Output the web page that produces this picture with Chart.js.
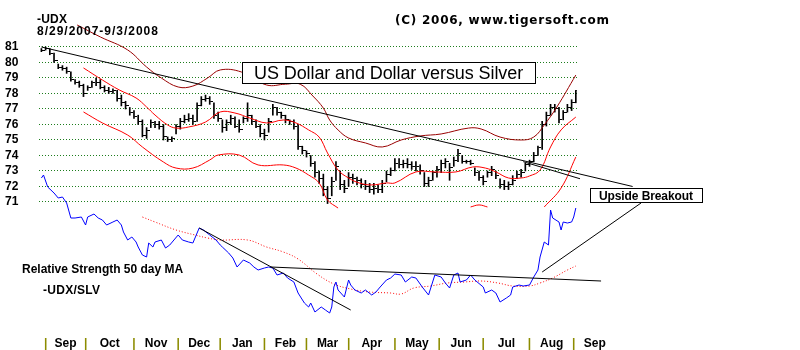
<!DOCTYPE html>
<html>
<head>
<meta charset="utf-8">
<title>-UDX 8/29/2007-9/3/2008</title>
<script src="https://cdn.jsdelivr.net/npm/chart.js@4.4.0/dist/chart.umd.min.js"></script>
<style>
  html, body { margin: 0; padding: 0; background: #fff; }
  #wrap { width: 800px; height: 350px; position: relative; }
</style>
</head>
<body>
<div id="wrap"><canvas id="udxChart"></canvas></div>
<script>
// -UDX daily bars, one bar every second trading day (day 0 = 8/29/2007)
const barHigh = [80.9, 81.0, 80.9, 80.6, 79.9, 79.8, 79.7, 79.4, 78.9, 78.8,
  78.6, 78.5, 78.8, 79.0, 78.9, 78.5, 78.4, 78.3, 78.2, 77.9,
  77.5, 77.1, 76.9, 76.6, 76.3, 75.8, 76.3, 76.2, 76.2, 76.0,
  75.2, 75.2, 76.0, 76.4, 76.6, 76.7, 76.6, 77.4, 77.8, 77.9,
  77.8, 77.4, 76.8, 76.3, 76.3, 76.6, 76.5, 76.3, 76.5, 77.4,
  76.6, 76.3, 76.0, 75.7, 76.4, 77.3, 77.1, 76.8, 76.6, 76.3,
  76.3, 76.0, 74.6, 74.3, 74.0, 73.6, 73.0, 72.8, 72.0, 72.6,
  73.6, 73.0, 72.4, 72.9, 72.8, 72.6, 72.5, 72.4, 72.2, 72.2,
  72.1, 72.4, 73.0, 73.2, 73.8, 73.8, 73.7, 73.8, 73.6, 73.6,
  73.4, 72.9, 72.6, 73.0, 73.3, 73.7, 73.8, 73.5, 73.9, 74.4,
  74.0, 73.7, 73.7, 73.2, 73.0, 72.7, 73.0, 73.3, 73.0, 72.5,
  72.4, 72.3, 72.7, 73.0, 73.1, 73.5, 73.7, 74.2, 74.6, 76.2,
  76.8, 77.3, 77.3, 77.1, 76.9, 77.3, 77.6, 78.2];
const barLow = [80.7, 80.8, 80.5, 80.0, 79.6, 79.5, 79.3, 78.8, 78.6, 78.4,
  77.8, 78.2, 78.4, 78.5, 78.3, 78.1, 78.0, 78.0, 77.5, 77.2,
  77.0, 76.6, 76.4, 76.0, 75.2, 75.1, 75.8, 75.8, 75.7, 75.0,
  74.9, 74.9, 75.4, 75.7, 76.1, 76.2, 76.0, 76.2, 77.2, 77.5,
  77.3, 76.4, 76.2, 75.5, 75.6, 76.0, 75.8, 75.5, 76.1, 76.2,
  76.0, 75.8, 75.2, 75.0, 75.5, 76.6, 76.6, 76.4, 76.1, 76.0,
  75.7, 74.4, 74.1, 73.9, 73.3, 72.6, 72.2, 71.4, 70.9, 71.4,
  72.4, 71.8, 71.6, 72.0, 72.2, 72.1, 71.9, 71.8, 71.6, 71.5,
  71.6, 71.6, 72.3, 72.7, 73.0, 73.2, 73.2, 73.2, 73.1, 73.0,
  72.8, 72.0, 72.0, 72.4, 72.6, 72.9, 73.2, 72.4, 73.3, 73.6,
  73.5, 73.5, 73.4, 72.7, 72.4, 72.1, 72.6, 72.7, 72.5, 71.9,
  71.8, 71.8, 72.1, 72.5, 72.6, 73.0, 73.3, 73.6, 74.0, 74.4,
  75.9, 76.6, 76.8, 76.1, 76.3, 76.8, 76.9, 77.4];
const barClose = [80.8, 80.9, 80.6, 80.1, 79.7, 79.6, 79.4, 78.9, 78.7, 78.5,
  78.0, 78.4, 78.7, 78.7, 78.4, 78.2, 78.1, 78.2, 77.7, 77.4,
  77.2, 76.8, 76.5, 76.2, 75.3, 75.6, 76.1, 76.0, 75.9, 75.2,
  75.0, 75.1, 75.9, 76.2, 76.3, 76.4, 76.2, 77.2, 77.6, 77.7,
  77.5, 76.6, 76.4, 75.8, 76.1, 76.4, 75.9, 75.7, 76.4, 76.6,
  76.2, 75.9, 75.4, 75.3, 76.2, 77.1, 76.8, 76.6, 76.3, 76.2,
  75.9, 74.6, 74.3, 74.1, 73.5, 72.9, 72.5, 71.8, 71.2, 72.3,
  73.3, 72.1, 71.9, 72.6, 72.5, 72.4, 72.1, 72.0, 71.8, 71.9,
  71.8, 72.2, 72.8, 73.0, 73.5, 73.4, 73.5, 73.4, 73.3, 73.3,
  73.0, 72.2, 72.4, 72.9, 73.1, 73.5, 73.6, 73.2, 73.7, 74.1,
  73.6, 73.6, 73.5, 72.9, 72.6, 72.3, 72.9, 73.1, 72.7, 72.1,
  72.0, 72.1, 72.4, 72.8, 72.9, 73.4, 73.6, 74.0, 74.5, 76.0,
  76.6, 77.1, 77.0, 76.3, 76.8, 77.1, 77.4, 78.2];

// bands on the price panel (trading-day index -> price)
const upperBandDays = [18, 29, 42, 51, 58, 66, 73, 80, 86, 96, 108, 117, 124, 130, 135, 138, 142, 147, 155, 163, 172, 181, 191, 204, 210, 219, 229, 235, 240, 246, 255];
const upperBand = [82.42, 81.65, 80.81, 79.71, 79.0, 78.42, 78.48, 79.0, 79.52, 79.39, 78.55, 78.6, 78.6, 77.84, 77.06, 76.29, 75.65, 75.13, 74.81, 74.55, 75.0, 75.26, 75.39, 75.77, 75.71, 75.19, 75.0, 75.19, 75.97, 77.13, 79.19];
const maDays = [21, 30, 38, 46, 51, 55, 61, 65, 71, 79, 86, 93, 100, 108, 116, 122, 128, 133, 137, 142, 147, 152, 158, 165, 169, 179, 188, 198, 206, 212, 217, 223, 229, 233, 238, 243, 248, 255];
const maValues = [79.65, 78.87, 78.23, 77.71, 77.13, 76.61, 75.97, 75.77, 75.84, 76.16, 76.81, 76.74, 76.42, 76.1, 76.29, 76.1, 75.65, 75.19, 74.16, 73.06, 72.55, 72.23, 72.1, 72.23, 72.23, 72.94, 72.94, 72.94, 73.26, 73.19, 72.94, 72.55, 72.55, 72.68, 73.06, 74.55, 75.65, 76.48];
const lowerBandDays = [21, 30, 42, 49, 59, 65, 73, 81, 85, 95, 104, 116, 122, 128, 133, 137, 142, 150, 205, 209, 213, 225, 240, 248, 255];
const lowerBand = [76.81, 76.1, 75.32, 74.55, 73.58, 73.19, 73.19, 73.71, 74.03, 74.03, 73.39, 73.39, 73.19, 72.74, 72.23, 71.13, 70.61, null, 70.68, 70.81, 70.68, null, 70.68, 71.9, 73.9];

// -UDX/SLV relative strength and its 50 day MA (panel units)
const rsDays = [1, 2, 4, 7, 9, 11, 13, 15, 17, 20, 22, 23, 26, 28, 30, 32, 35, 37, 39, 40,
  42, 44, 46, 47, 49, 51, 52, 54, 55, 58, 60, 62, 64, 66, 68, 71, 73, 76, 78, 81,
  84, 86, 87, 90, 92, 94, 97, 100, 102, 104, 107, 109, 111, 113, 116, 118, 121, 123, 126, 128,
  129, 131, 134, 136, 138, 139, 140, 141, 142, 145, 147, 148, 150, 153, 155, 158, 160, 162, 165, 167,
  169, 172, 174, 177, 179, 182, 185, 188, 191, 193, 195, 197, 199, 200, 203, 205, 207, 211, 212, 215,
  217, 219, 222, 224, 225, 228, 230, 233, 235, 237, 238, 240, 242, 243, 244, 247, 248, 249, 251, 253,
  254, 255];
const rsValues = [14.2, 14.5, 13.3, 12.7, 12.2, 12.3, 11.7, 10.2, 10.2, 10.3, 9.5, 10.3, 10.6, 10.2, 10.0, 9.5, 9.8, 10.0, 9.5, 8.8,
  8.0, 8.3, 7.8, 7.3, 6.5, 6.3, 7.7, 7.3, 7.8, 8.0, 7.2, 7.5, 8.0, 8.5, 8.0, 7.8, 7.7, 9.2, 9.0, 8.5,
  8.0, 7.5, 7.3, 6.7, 6.2, 5.3, 6.0, 5.7, 5.3, 5.0, 5.2, 5.3, 5.2, 4.5, 4.7, 4.2, 3.8, 2.7, 1.7, 1.3,
  1.7, 0.8, 1.3, 1.0, 0.7, 1.3, 3.3, 3.8, 3.0, 2.3, 4.0, 3.5, 3.0, 2.7, 3.0, 2.5, 2.8, 3.3, 4.0, 4.2,
  4.6, 4.5, 3.8, 4.3, 4.2, 3.3, 2.5, 4.5, 4.3, 3.7, 3.2, 4.5, 4.7, 3.8, 4.0, 4.5, 4.0, 3.3, 2.7, 3.0,
  2.7, 1.8, 2.2, 2.5, 3.3, 3.5, 3.4, 3.5, 4.3, 5.0, 6.3, 7.8, 7.5, 11.0, 10.2, 9.8, 9.0, 9.8, 9.7, 9.8,
  10.3, 11.2];
const rsMaDays = [49, 55, 65, 74, 80, 86, 99, 108, 116, 123, 132, 140, 148, 157, 167, 172, 178, 186, 194, 202, 210, 218, 225, 233, 238, 244, 251, 255];
const rsMaValues = [10.3, 9.8, 9.0, 8.5, 8.2, 8.0, 8.0, 7.3, 6.8, 6.1, 4.6, 3.6, 3.1, 2.8, 2.7, 2.6, 3.2, 3.4, 3.7, 3.8, 3.9, 3.7, 3.4, 3.4, 3.7, 4.2, 5.0, 5.4];

// trend lines as [day, value] end points
const priceTrend = [[1, 81.0], [282, 72.0]];
const priceTrendLow = [[230, 73.6], [257, 72.5]];
const rsTrendDown = [[76, 9.2], [148, 1.0]];
const rsTrendFlat = [[110, 5.3], [267, 3.9]];
const breakoutLeader = [[239, 4.8], [286, 11.7]];

// month boundaries (first trading day of each month) and names
const monthStarts = [3, 22, 45, 66, 86, 107, 127, 147, 169, 190, 211, 233, 254];
const monthNames = ['Sep', 'Oct', 'Nov', 'Dec', 'Jan', 'Feb', 'Mar', 'Apr', 'May', 'Jun', 'Jul', 'Aug', 'Sep'];
const priceTicks = [71, 72, 73, 74, 75, 76, 77, 78, 79, 80, 81];

const FONT = '"Liberation Sans", Arial, sans-serif';

// month label sits half way through its month
const monthMids = monthStarts.map((d, i) => i < monthStarts.length - 1 ? (d + monthStarts[i + 1]) / 2 : d + 10);
const xLabels = {};
monthStarts.forEach(d => { xLabels[d] = '|'; });
monthMids.forEach((d, i) => { xLabels[d] = monthNames[i]; });
const xTickValues = Object.keys(xLabels).map(Number).sort((a, b) => a - b);

function points(days, values) {
    return days.map((d, i) => ({ x: d, y: values[i] }));
}
function segment(pairs) {
    return pairs.map(p => ({ x: p[0], y: p[1] }));
}

// little tick to the right of each bar for the close
const closeTick = document.createElement('canvas');
closeTick.width = 7;
closeTick.height = 1;
closeTick.getContext('2d').fillRect(4, 0, 3, 1);

function line(label, data, color, yAxisID, extra) {
    return Object.assign({
        type: 'line',
        label: label,
        data: data,
        yAxisID: yAxisID,
        borderColor: color,
        borderWidth: 1,
        pointRadius: 0,
        tension: 0,
        fill: false,
        clip: false
    }, extra || {});
}

function fitText(ctx, text, x, y, font, width) {
    ctx.font = font;
    ctx.letterSpacing = '0px';
    const w = ctx.measureText(text).width;
    if (width && text.length > 1) {
        ctx.letterSpacing = ((width - w) / (text.length - 1)).toFixed(2) + 'px';
    }
    ctx.fillText(text, x, y);
    ctx.letterSpacing = '0px';
}

// titles, boxes and notes drawn over the plot
const annotations = {
    id: 'annotations',
    afterDatasetsDraw(chart) {
        const ctx = chart.ctx;
        ctx.save();
        ctx.fillStyle = '#000';
        ctx.textBaseline = 'alphabetic';
        fitText(ctx, '-UDX', 37, 23, 'bold 12px ' + FONT, 30);
        fitText(ctx, '8/29/2007-9/3/2008', 37, 35, 'bold 12px ' + FONT, 121);
        fitText(ctx, '(C) 2006, www.tigersoft.com', 395, 24, 'bold 12px "DejaVu Sans", ' + FONT, 214);

        ctx.fillStyle = '#fff';
        ctx.fillRect(242, 62, 293, 21);
        ctx.strokeStyle = '#000';
        ctx.lineWidth = 1;
        ctx.strokeRect(242.5, 62.5, 293, 21);
        ctx.fillStyle = '#000';
        fitText(ctx, 'US Dollar and Dollar versus Silver', 254, 79, '18px ' + FONT, 269);

        ctx.fillStyle = '#fff';
        ctx.fillRect(590, 188, 112, 14);
        ctx.strokeRect(590.5, 188.5, 112, 14);
        ctx.fillStyle = '#000';
        fitText(ctx, 'Upside Breakout', 599, 200, 'bold 12px ' + FONT, 94);

        fitText(ctx, 'Relative Strength 50 day MA', 22, 273, 'bold 12px ' + FONT, 161);
        fitText(ctx, '-UDX/SLV', 43, 294, 'bold 12px ' + FONT, 57);
        ctx.restore();
    }
};

function createUdxChart() {
    const ctx = document.getElementById('udxChart');

    new Chart(ctx, {
        type: 'line',
        data: {
            datasets: [
                line('Trend', segment(priceTrend), '#000', 'y'),
                line('Trend 2', segment(priceTrendLow), '#000', 'y'),
                line('RS trend down', segment(rsTrendDown), '#000', 'y2'),
                line('RS trend flat', segment(rsTrendFlat), '#000', 'y2'),
                line('Breakout', segment(breakoutLeader), '#000', 'y2'),
                line('Upper band', points(upperBandDays, upperBand), '#990000', 'y', { tension: 0.4 }),
                line('20 day MA', points(maDays, maValues), '#ff0000', 'y', { tension: 0.4 }),
                line('Lower band', points(lowerBandDays, lowerBand), '#ff0000', 'y', { tension: 0.4 }),
                line('Relative Strength', points(rsDays, rsValues), '#0000ff', 'y2'),
                line('RS 50 day MA', points(rsMaDays, rsMaValues), '#ff0000', 'y2', { borderDash: [1, 2], tension: 0.4 }),
                {
                    type: 'line',
                    label: 'Close',
                    data: barClose.map((c, k) => ({ x: 2 * k + 1, y: c })),
                    yAxisID: 'y',
                    showLine: false,
                    pointStyle: closeTick,
                    pointRadius: 3
                },
                {
                    type: 'bar',
                    label: '-UDX',
                    data: barHigh.map((h, k) => ({ x: 2 * k + 1, y: [barLow[k], h] })),
                    yAxisID: 'y',
                    backgroundColor: '#000',
                    borderWidth: 0,
                    barThickness: 1,
                    grouped: false
                }
            ]
        },
        options: {
            responsive: true,
            maintainAspectRatio: false,
            animation: false,
            events: [],
            layout: { padding: { left: 5, right: 223, top: 20, bottom: 0 } },
            plugins: {
                legend: { display: false },
                title: { display: false },
                tooltip: { enabled: false }
            },
            scales: {
                x: {
                    type: 'linear',
                    offset: false,
                    min: -0.14,
                    max: 255.56,
                    afterBuildTicks: s => { s.ticks = xTickValues.map(v => ({ value: v })); },
                    afterFit: s => { s.height = 18; },
                    grid: { display: false },
                    border: { display: false },
                    ticks: {
                        autoSkip: false,
                        maxRotation: 0,
                        minRotation: 0,
                        padding: -4,
                        font: { family: FONT, size: 12, weight: 'bold' },
                        color: c => (c.tick && xLabels[c.tick.value] === '|') ? '#8c8c00' : '#000',
                        callback: v => xLabels[v] || ''
                    }
                },
                y: {
                    position: 'left',
                    min: 62.6129,
                    max: 82.7419,
                    afterBuildTicks: s => { s.ticks = priceTicks.map(v => ({ value: v })); },
                    afterFit: s => { s.width = 34; },
                    grid: { color: '#1d7d1d', lineWidth: 1, drawTicks: false },
                    border: { display: false, dash: [1, 2] },
                    ticks: {
                        crossAlign: 'far',
                        padding: 0,
                        color: '#000',
                        font: { family: FONT, size: 12, weight: 'bold' }
                    }
                },
                y2: {
                    display: false,
                    min: -1.2,
                    max: 30.0
                }
            }
        },
        plugins: [annotations]
    });
}

document.addEventListener('DOMContentLoaded', createUdxChart);
</script>
</body>
</html>
